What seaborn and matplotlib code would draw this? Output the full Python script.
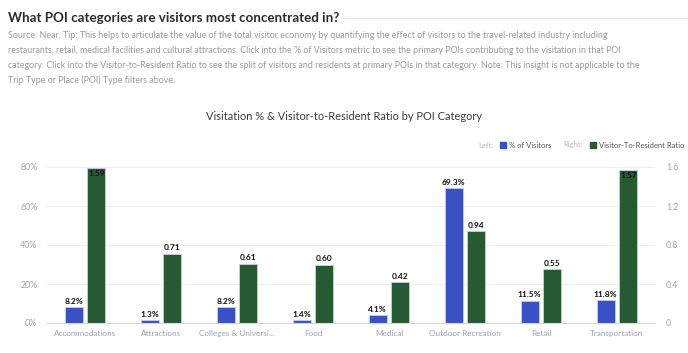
import matplotlib
matplotlib.use("Agg")
import matplotlib.pyplot as plt
import seaborn as sns
import pandas as pd

categories = ["Accommodations", "Attractions", "Colleges & Universi...", "Food",
              "Medical", "Outdoor Recreation", "Retail", "Transportation"]
pct_visitors = [8.2, 1.3, 8.2, 1.4, 4.1, 69.3, 11.5, 11.8]
ratio = [1.59, 0.71, 0.61, 0.60, 0.42, 0.94, 0.55, 1.57]
left_ticks = [0, 20, 40, 60, 80]
right_ticks = [0, 0.4, 0.8, 1.2, 1.6]

BLUE = "#3852C6"
GREEN = "#255A33"
SCALE = 50.0  # right axis 1.6 <-> left axis 80%

sns.set_theme(style="white")
plt.rcParams["font.family"] = ["Lato", "DejaVu Sans"]

fig = plt.figure(figsize=(6.88, 3.53), dpi=100)
W, H = 688, 353

def fx(x):
    return x / W

def fy(y):
    return 1 - y / H

# Header
fig.text(fx(8), fy(18), "What POI categories are visitors most concentrated in?",
         fontsize=9.6, fontweight="bold", color="#2b2b2b", va="center", ha="left")
fig.add_artist(plt.Line2D([fx(345), fx(688)], [fy(18), fy(18)], color="#e6e6ea", lw=0.8))
src_lines = [
    "Source: Near, Tip: This helps to articulate the value of the total visitor economy by quantifying the effect of visitors to the travel-related industry including",
    "restaurants, retail, medical facilities and cultural attractions. Click into the % of Visitors metric to see the primary POIs contributing to the visitation in that POI",
    "category. Click into the Visitor-to-Resident Ratio to see the split of visitors and residents at primary POIs in that category. Note: This insight is not applicable to the",
    "Trip Type or Place (POI) Type filters above.",
]
for i, line in enumerate(src_lines):
    fig.text(fx(8), fy(36 + i * 14.7), line, fontsize=6.4, color="#9a9a9a", va="center", ha="left")

fig.text(0.5, fy(117), "Visitation % & Visitor-to-Resident Ratio by POI Category",
         fontsize=7.9, color="#3a3a3a", ha="center", va="center")

# Data frame
df = pd.DataFrame({
    "category": categories * 2,
    "metric": ["% of Visitors"] * len(categories) + ["Visitor-To-Resident Ratio"] * len(categories),
    "value": pct_visitors + [r * SCALE for r in ratio],
})

ax = fig.add_axes([fx(47), fy(323), fx(655) - fx(47), fy(167) - fy(323)])
sns.barplot(data=df, x="category", y="value", hue="metric", order=categories,
            hue_order=["% of Visitors", "Visitor-To-Resident Ratio"],
            palette=[BLUE, GREEN], width=0.604, gap=0.215, ax=ax, legend=False,
            errorbar=None, edgecolor="#c9cdf0", linewidth=0.6, saturation=1)
ax.set_ylim(0, 80)
ax.set_xlim(-0.5, len(categories) - 0.5)
ax.set_yticks(left_ticks)
ax.set_yticklabels([f"{t}%" for t in left_ticks])
ax.set_xlabel("")
ax.set_ylabel("")
ax.grid(axis="y", color="#eeeef2", lw=0.8)
ax.set_axisbelow(True)
for s in ["top", "right", "left"]:
    ax.spines[s].set_visible(False)
ax.spines["bottom"].set_color("#d4d6e2")
ax.spines["bottom"].set_linewidth(0.8)
ax.tick_params(axis="y", length=0, pad=7, labelsize=6.3, labelcolor="#a0a0a8")
ax.tick_params(axis="x", length=0, pad=5, labelsize=5.9, labelcolor="#9aa0b0")
for p in ax.patches:
    p.set_clip_on(False)

ax2 = ax.twinx()
ax2.set_ylim(0, 80 / SCALE)
ax2.set_yticks(right_ticks)
ax2.set_yticklabels(["0", "0.4", "0.8", "1.2", "1.6"])
for s in ["top", "right", "left", "bottom"]:
    ax2.spines[s].set_visible(False)
ax2.tick_params(axis="y", length=0, pad=8, labelsize=6.3, labelcolor="#a0a0a8")

# Labels
bars = ax.containers
for c, vals, fmt in [(bars[0], pct_visitors, "{:.1f}%"), (bars[1], ratio, "{:.2f}")]:
    for rect, v in zip(c, vals):
        x = rect.get_x() + rect.get_width() / 2
        h = rect.get_height()
        if h > 75:
            ax.text(x, h - 1.2, fmt.format(v), ha="center", va="top", fontsize=6.0,
                    fontweight="bold", color="#111111")
        else:
            ax.text(x, h + 1.2, fmt.format(v), ha="center", va="bottom", fontsize=6.0,
                    fontweight="bold", color="#111111")

# Legend
ly = fy(145)
items = [
    (fx(478), "Left:", "#b8b8c0", None),
    (fx(500), None, None, BLUE),
    (fx(509), "% of Visitors", "#555555", None),
    (fx(563), "Right:", "#b8b8c0", None),
    (fx(590), None, None, GREEN),
    (fx(599), "Visitor-To-Resident Ratio", "#555555", None),
]
for x, txt, col, sq in items:
    if txt:
        fig.text(x, ly, txt, fontsize=5.5, color=col, va="center", ha="left")
    else:
        fig.add_artist(plt.Rectangle((x, ly - 2.7 / H), 5.5 / W, 5.5 / H, color=sq,
                                     transform=fig.transFigure))

fig.savefig("out.png", dpi=100)
